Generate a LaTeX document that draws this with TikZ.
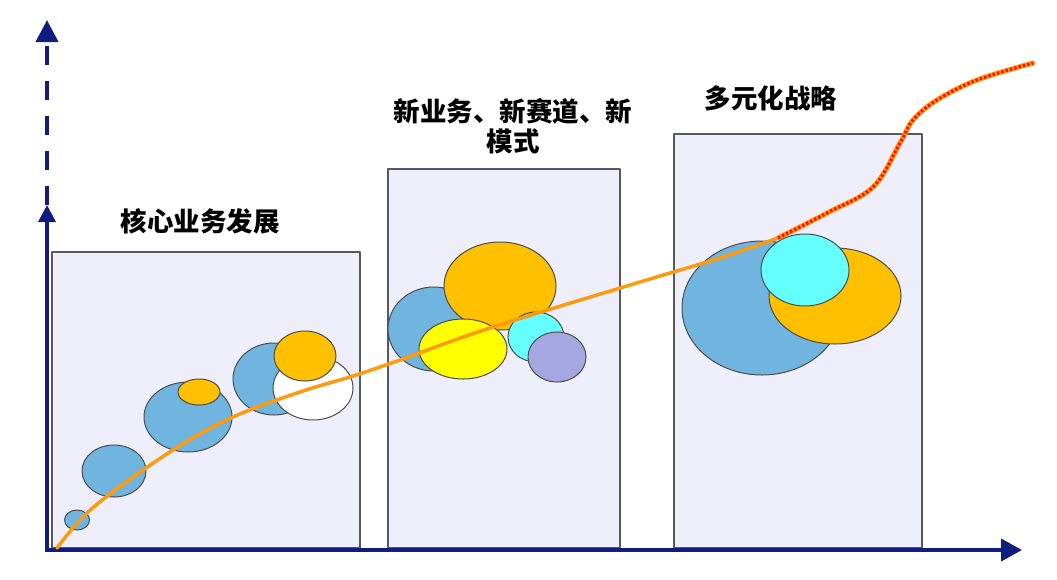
\documentclass[tikz,border=0pt]{standalone}
\usepackage{fontspec}
\newfontfamily\cjk{Noto Sans CJK SC}
\usetikzlibrary{arrows.meta}
\definecolor{axisblue}{HTML}{0F1C80}
\definecolor{boxfill}{HTML}{EFEFFC}
\definecolor{bluebub}{HTML}{70B4E0}
\definecolor{goldbub}{HTML}{FFC000}
\definecolor{yellowbub}{HTML}{FFFF00}
\definecolor{cyanbub}{HTML}{66FFFF}
\definecolor{lilacbub}{HTML}{A6A6E2}
\definecolor{trendline}{HTML}{FF9A10}
\tikzset{
  stagebox/.style={fill=boxfill, draw=black!65, line width=1.2pt},
  bub/.style={fill=#1, draw=black!70, line width=1pt},
  stagelabel/.style={font=\cjk\bfseries\fontsize{26.5}{30}\selectfont, align=center, inner sep=0pt}
}
\begin{document}
\begin{tikzpicture}[x=1pt, y=-1pt, line join=round, line cap=round, >={Triangle[length=22pt,width=22pt]}]
	\useasboundingbox (0,0) rectangle (1057,579);
	% stages
	\draw[stagebox] (52,252) rectangle (360,548);
	\draw[stagebox] (388,169) rectangle (620,548);
	\draw[stagebox] (674,134) rectangle (922,548);
	\node[stagelabel] (core) at (200,221) {核心业务发展};
	\node[stagelabel] (newbiz) at (513,126) {新业务、新赛道、新\\模式};
	\node[stagelabel] (multi) at (771,98) {多元化战略};
	% axes
	\draw[axisblue, line width=4pt, line cap=butt, -{Triangle[length=21pt,width=22pt]}] (47,550)--(1022,550);
	\draw[axisblue, line width=3.5pt, line cap=butt, -{Triangle[length=17pt,width=17pt]}] (47,552)--(47,205);
	\draw[axisblue, line width=4pt, line cap=butt, dash pattern=on 19pt off 16pt, ->] (47,205)--(47,20);
	% bubbles
	\filldraw[bub=bluebub] (77,520) ellipse[x radius=12.5, y radius=10]
		(114,471) ellipse[x radius=32, y radius=26]
		(188,417) ellipse[x radius=44, y radius=35];
	\filldraw[bub=goldbub] (199,392) ellipse[x radius=21, y radius=13];
	\filldraw[bub=bluebub] (274,379) ellipse[x radius=41, y radius=36];
	\filldraw[bub=white] (313,388) ellipse[x radius=40, y radius=32];
	\filldraw[bub=goldbub] (305,356) ellipse[x radius=31, y radius=25];
	\filldraw[bub=bluebub] (434,329) ellipse[x radius=46, y radius=42];
	\filldraw[bub=goldbub] (500,286) ellipse[x radius=56, y radius=44];
	\filldraw[bub=yellowbub] (463,349) ellipse[x radius=44, y radius=30];
	\filldraw[bub=cyanbub] (536,337) ellipse[x radius=28, y radius=25];
	\filldraw[bub=lilacbub] (557,357) ellipse[x radius=29, y radius=25];
	\filldraw[bub=bluebub] (762,308) ellipse[x radius=80, y radius=67];
	\filldraw[bub=goldbub] (835,296) ellipse[x radius=66, y radius=48];
	\filldraw[bub=cyanbub] (805,270) ellipse[x radius=44, y radius=36];
	% growth curve
	\draw[trendline, line width=3.5pt] plot[smooth, tension=0.6] coordinates {(57,548) (80,520) (110,494) (173,450) (233,417) (300,392) (353,376) (400,360) (490,328) (640,282) (720,258) (778,238)};
	\draw[trendline, line width=5pt] plot[smooth, tension=0.6] coordinates {(778,238) (827,213) (873,187) (900,143) (913,120) (937,100) (977,80) (1033,63)};
	\draw[red!90!orange, line width=3pt, line cap=butt, dash pattern=on 2.5pt off 2pt] plot[smooth, tension=0.6] coordinates {(778,238) (827,213) (873,187) (900,143) (913,120) (937,100) (977,80) (1033,63)};
\end{tikzpicture}
\end{document}
